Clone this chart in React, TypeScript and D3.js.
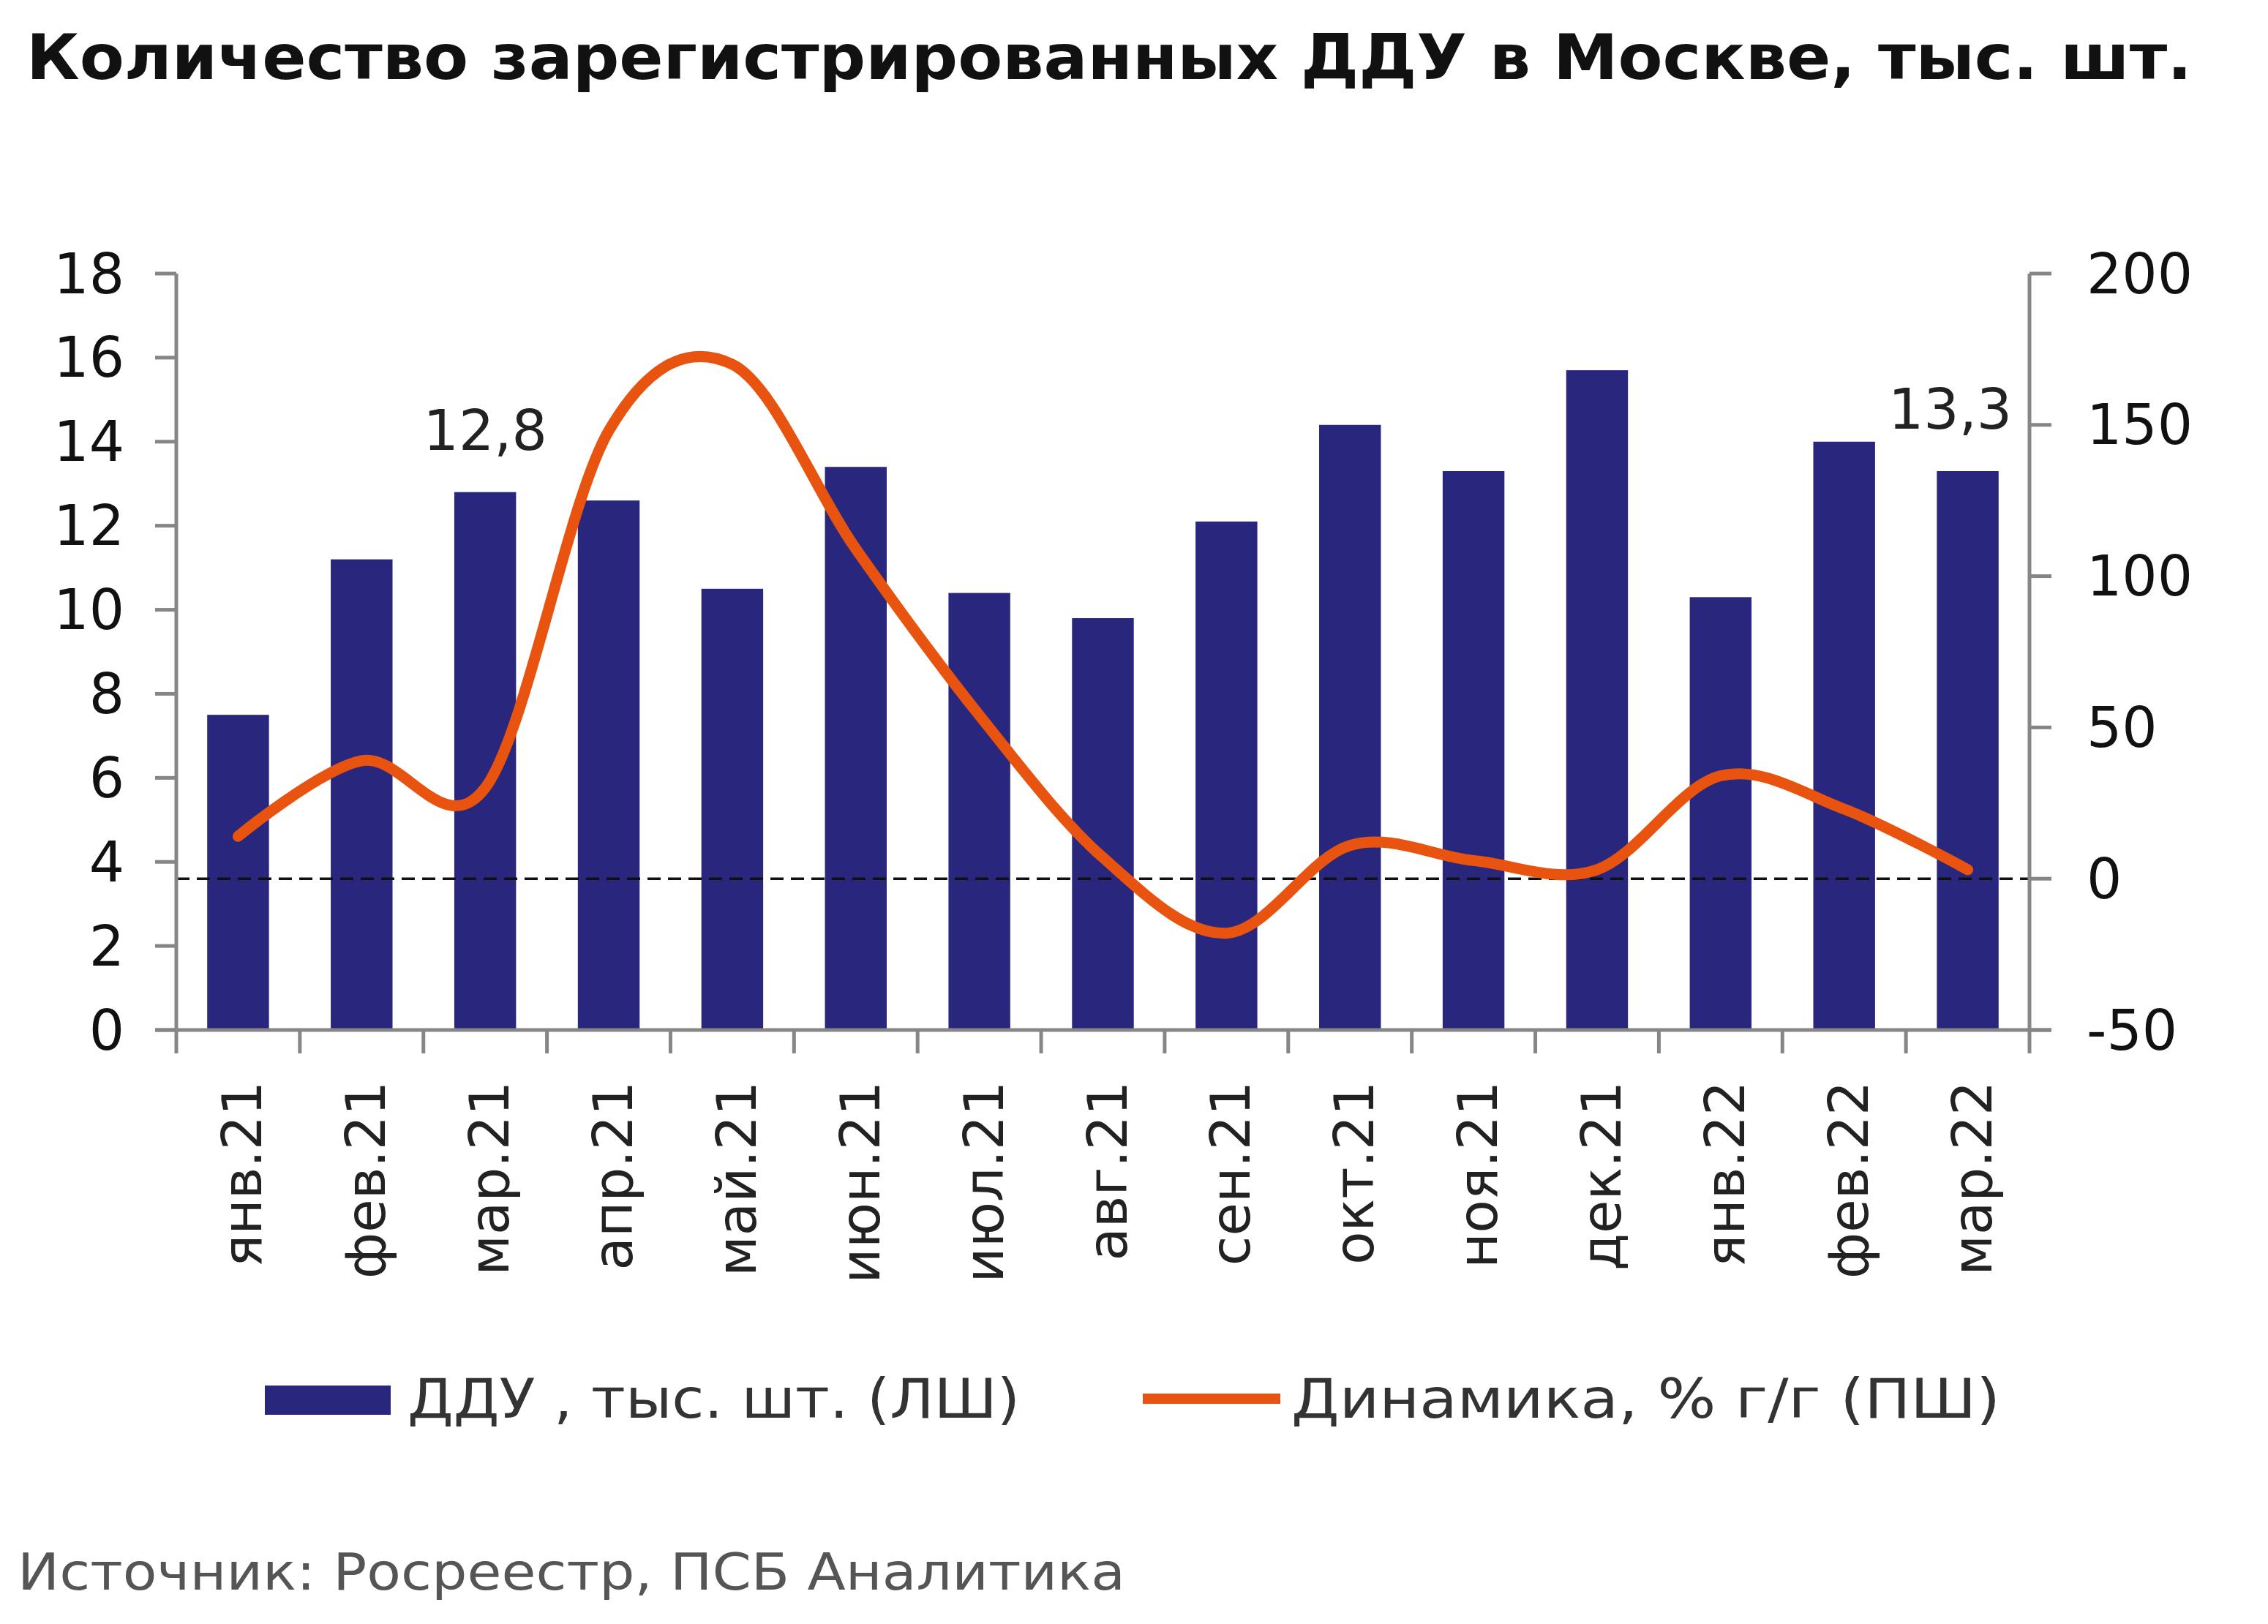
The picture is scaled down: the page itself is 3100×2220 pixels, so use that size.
import * as d3 from 'd3'

// Данные графика
const months = ['янв.21', 'фев.21', 'мар.21', 'апр.21', 'май.21', 'июн.21', 'июл.21', 'авг.21', 'сен.21', 'окт.21', 'ноя.21', 'дек.21', 'янв.22', 'фев.22', 'мар.22']
const dduValues = [7.5, 11.2, 12.8, 12.6, 10.5, 13.4, 10.4, 9.8, 12.1, 14.4, 13.3, 15.7, 10.3, 14.0, 13.3]
const yoyValues = [14, 39, 30, 148, 170, 109, 54, 7, -18, 11, 6, 3, 34, 23, 3]
const leftTicks = [0, 2, 4, 6, 8, 10, 12, 14, 16, 18]
const rightTicks = [-50, 0, 50, 100, 150, 200]
const labelled = ['мар.21', 'мар.22']

const W = 3100
const H = 2220
const left = 241
const right = 2774
const top = 374
const bottom = 1408

const BAR = '#29267d'
const LINE = '#e8540f'
const AXIS = '#868686'
const FONT = '"DejaVu Sans", Verdana, sans-serif'

export default function App() {
  const x = d3.scaleBand<string>().domain(months).range([left, right]).paddingInner(0.5).paddingOuter(0.25)
  const yL = d3.scaleLinear().domain([0, 18]).range([bottom, top])
  const yR = d3.scaleLinear().domain([-50, 200]).range([bottom, top])
  const cx = (m: string) => (x(m) as number) + x.bandwidth() / 2

  const line = d3
    .line<number>()
    .x((_, i) => cx(months[i]))
    .y(d => yR(d))
    .curve(d3.curveCardinal.tension(0))

  const boundaries = d3.range(months.length + 1).map(i => left + i * x.step())

  return (
    <svg width={W} height={H} style={{ position: 'absolute', left: 0, top: 0, background: '#fff' }} fontFamily={FONT}>
      <text x={36} y={108} fontSize={86} fontWeight="bold" fill="#111" textLength={2960} lengthAdjust="spacingAndGlyphs">
        Количество зарегистрированных ДДУ в Москве, тыс. шт.
      </text>

      {/* bars */}
      {months.map((m, i) => (
        <rect key={m} x={x(m)} y={yL(dduValues[i])} width={x.bandwidth()} height={bottom - yL(dduValues[i])} fill={BAR} />
      ))}

      {/* zero line of right axis */}
      <line x1={left} x2={right} y1={yR(0)} y2={yR(0)} stroke="#111" strokeWidth={3.5} strokeDasharray="18 10" />

      {/* axes */}
      <line x1={left} x2={left} y1={top} y2={bottom} stroke={AXIS} strokeWidth={5} />
      <line x1={right} x2={right} y1={top} y2={bottom} stroke={AXIS} strokeWidth={5} />
      <line x1={left - 29} x2={right + 30} y1={bottom} y2={bottom} stroke={AXIS} strokeWidth={5} />
      {leftTicks.map(t => (
        <g key={'l' + t}>
          <line x1={left - 29} x2={left} y1={yL(t)} y2={yL(t)} stroke={AXIS} strokeWidth={5} />
          <text x={170} y={yL(t)} dominantBaseline="central" textAnchor="end" fontSize={76} fill="#111">
            {t}
          </text>
        </g>
      ))}
      {rightTicks.map(t => (
        <g key={'r' + t}>
          <line x1={right} x2={right + 30} y1={yR(t)} y2={yR(t)} stroke={AXIS} strokeWidth={5} />
          <text x={2852} y={yR(t)} dominantBaseline="central" textAnchor="start" fontSize={76} fill="#111">
            {t}
          </text>
        </g>
      ))}
      {boundaries.map((b, i) => (
        <line key={'b' + i} x1={b} x2={b} y1={bottom} y2={bottom + 32} stroke={AXIS} strokeWidth={5} />
      ))}
      {months.map(m => (
        <text
          key={'x' + m}
          transform={`translate(${cx(m) + 6},${1478}) rotate(-90)`}
          textAnchor="end"
          dominantBaseline="central"
          fontSize={74}
          fill="#222"
        >
          {m}
        </text>
      ))}

      {/* line */}
      <path d={line(yoyValues) ?? ''} fill="none" stroke={LINE} strokeWidth={15} strokeLinecap="round" />

      {/* data labels */}
      {months.map((m, i) =>
        labelled.includes(m) ? (
          <text
            key={'d' + m}
            x={cx(m) - (i === months.length - 1 ? 24 : 0)}
            y={yL(dduValues[i]) - 58}
            textAnchor="middle"
            fontSize={76}
            fill="#222"
          >
            {dduValues[i].toFixed(1).replace('.', ',')}
          </text>
        ) : null
      )}

      {/* legend */}
      <rect x={362} y={1894} width={172} height={40} fill={BAR} />
      <text x={557} y={1912} dominantBaseline="central" fontSize={74} fill="#333" textLength={837} lengthAdjust="spacingAndGlyphs">
        ДДУ , тыс. шт. (ЛШ)
      </text>
      <line x1={1562} x2={1750} y1={1912} y2={1912} stroke={LINE} strokeWidth={14} />
      <text x={1765} y={1912} dominantBaseline="central" fontSize={74} fill="#333" textLength={969} lengthAdjust="spacingAndGlyphs">
        Динамика, % г/г (ПШ)
      </text>

      <text x={24} y={2149} dominantBaseline="central" fontSize={70} fill="#555" textLength={1514} lengthAdjust="spacingAndGlyphs">
        Источник: Росреестр, ПСБ Аналитика
      </text>
    </svg>
  )
}
